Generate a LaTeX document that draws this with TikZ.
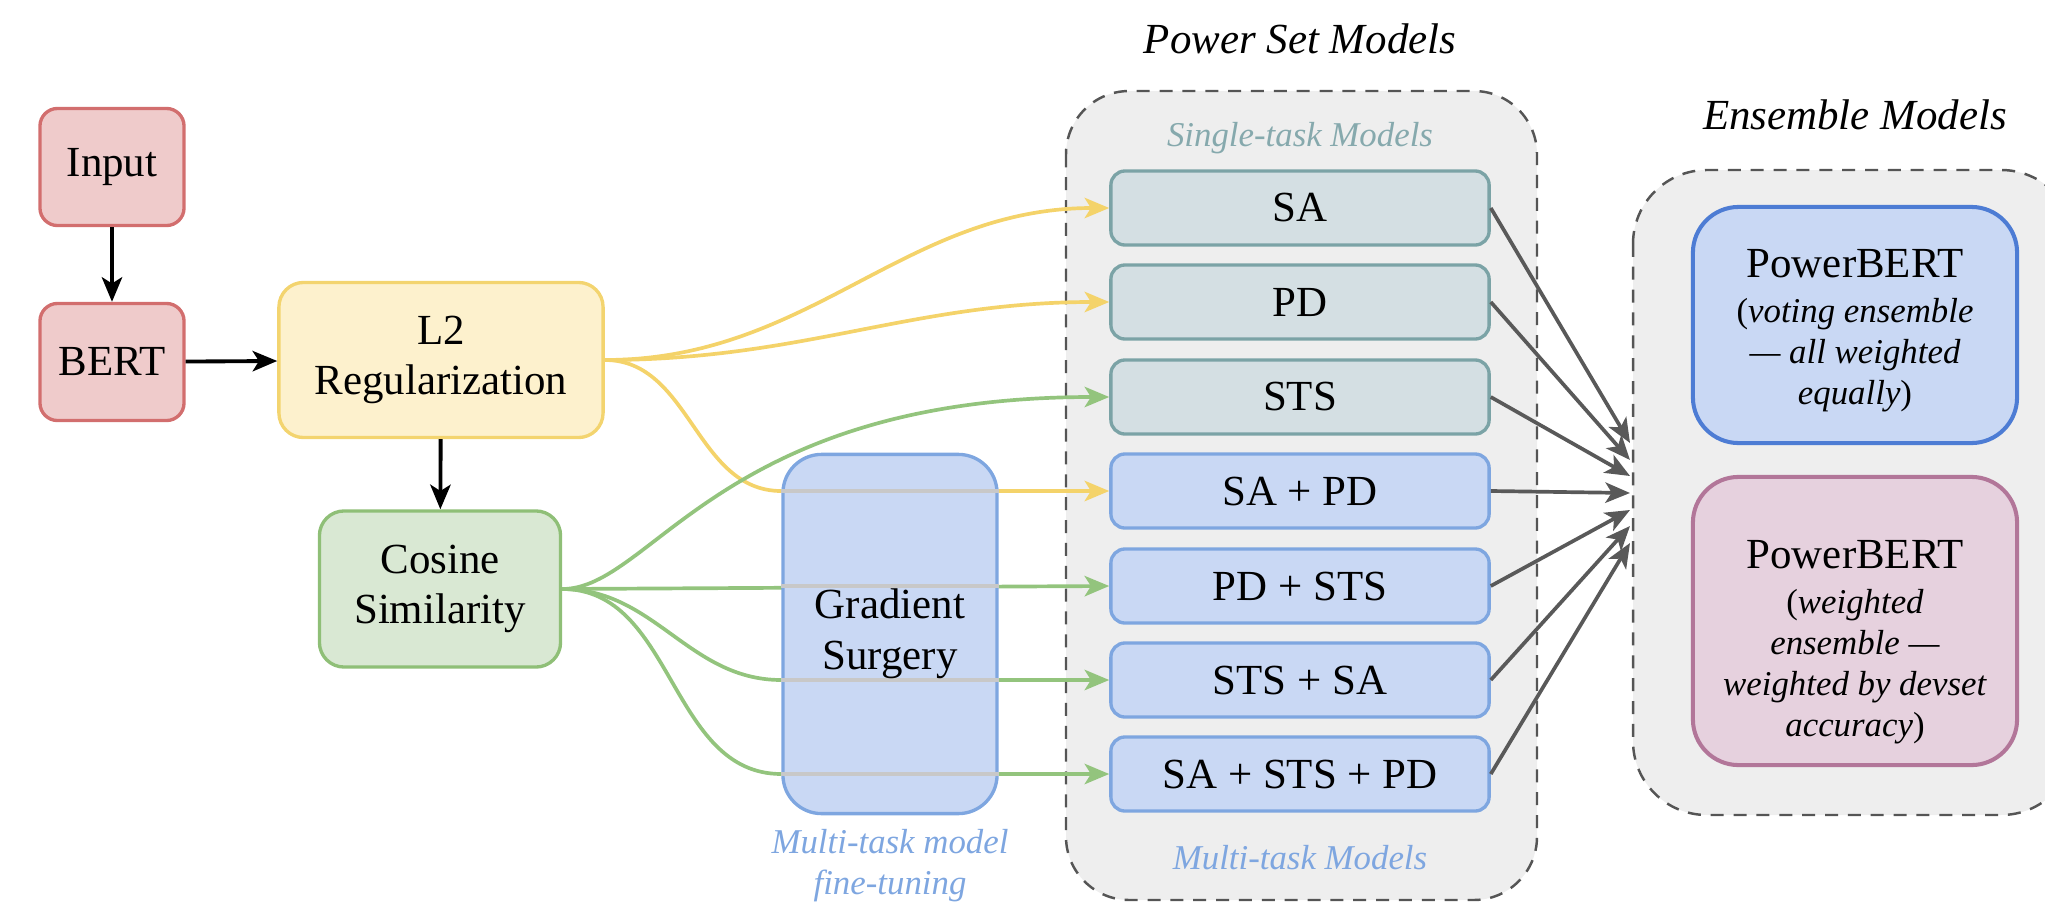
\documentclass[tikz,border=0pt]{standalone}
\usepackage{fontspec}
\setmainfont{Liberation Serif}
\usetikzlibrary{arrows.meta}

\definecolor{redfill}{HTML}{EFCBCB}
\definecolor{redline}{HTML}{D26E6E}
\definecolor{yelfill}{HTML}{FDF1CD}
\definecolor{yelline}{HTML}{F3D46F}
\definecolor{yelarrow}{HTML}{F4D36A}
\definecolor{grnfill}{HTML}{D9E8D3}
\definecolor{grnline}{HTML}{8FBF77}
\definecolor{grnarrow}{HTML}{93C47D}
\definecolor{stfill}{HTML}{D4DFE3}
\definecolor{stline}{HTML}{7BA3A6}
\definecolor{sttext}{HTML}{86A9AD}
\definecolor{mtfill}{HTML}{C9D8F4}
\definecolor{mtline}{HTML}{7EA6E0}
\definecolor{ensblue}{HTML}{4D7CD4}
\definecolor{pinkfill}{HTML}{E6D1DE}
\definecolor{pinkline}{HTML}{B27699}
\definecolor{boxgray}{HTML}{EEEEEE}
\definecolor{dashgray}{HTML}{555555}
\definecolor{arrowgray}{HTML}{595959}
\definecolor{hidgray}{HTML}{C8C8C8}

\newcommand{\boxfont}{\rmfamily\fontsize{12.2}{14.4}\selectfont}
\newcommand{\notefont}{\rmfamily\fontsize{9.9}{11.7}\selectfont}

\pgfdeclarelayer{bg}
\pgfdeclarelayer{wires}
\pgfsetlayers{bg,wires,main}

\begin{document}
\begin{tikzpicture}[
  x=0.01cm, y=-0.01cm,
  >={Stealth[length=7pt,width=5.8pt,inset=1.8pt]},
  every node/.style={align=center, font=\boxfont, inner sep=0pt},
  blk/.style={draw, line width=0.95pt, rounded corners=5pt},
  redblk/.style={blk, fill=redfill, draw=redline, minimum width=1.44cm, minimum height=1.17cm},
  single/.style={blk, fill=stfill, draw=stline, rounded corners=4pt, minimum width=3.78cm, minimum height=0.74cm},
  multi/.style={single, fill=mtfill, draw=mtline},
  ens/.style={blk, rounded corners=13pt, minimum width=3.24cm, line width=1.15pt, font=\notefont},
  hold/.style={fill=boxgray, draw=dashgray, line width=0.7pt, dash pattern=on 3.7pt off 2.8pt},
  note/.style={font=\notefont\itshape},
  yel/.style={->, draw=yelarrow, line width=1.05pt},
  grn/.style={->, draw=grnarrow, line width=1.05pt},
  gry/.style={->, draw=arrowgray, line width=1.05pt},
  hid/.style={draw=hidgray, line width=1.05pt},
]

\useasboundingbox (0,0) rectangle (2045,906);

\begin{pgfonlayer}{bg}
\clip (0,0) rectangle (2045,906);
\draw [hold, rounded corners=18pt] (1066,91) rectangle (1537,900);
\draw [hold, rounded corners=21pt] (1633,170) rectangle (2075,815);
\end{pgfonlayer}

\node [redblk] (input) at (112,167) {Input};
\node [redblk] (bert) at (112,362) {BERT};
\node [blk, fill=yelfill, draw=yelline, rounded corners=7pt, minimum width=3.24cm, minimum height=1.55cm] (l2) at (441,360) {L2\\Regularization};
\node [blk, fill=grnfill, draw=grnline, rounded corners=7pt, minimum width=2.41cm, minimum height=1.56cm] (cos) at (440,589) {Cosine\\Similarity};
\node [blk, fill=mtfill, draw=mtline, rounded corners=11pt, minimum width=2.14cm, minimum height=3.59cm] (gs) at (890,634) {};

\node [single] (sa) at (1300,208) {SA};
\node [single] (pd) at (1300,302) {PD};
\node [single] (sts) at (1300,397) {STS};
\node [multi] (sapd) at (1300,491) {SA + PD};
\node [multi] (pdsts) at (1300,586) {PD + STS};
\node [multi] (stssa) at (1300,680) {STS + SA};
\node [multi] (all) at (1300,774) {SA + STS + PD};

\node [ens, fill=mtfill, draw=ensblue, minimum height=2.36cm] (vote) at (1855,325) {\rule{0pt}{11.5pt}{\boxfont PowerBERT}\\[1pt](\textit{voting ensemble}\\\textit{--- all weighted}\\\textit{equally})};
\node [ens, fill=pinkfill, draw=pinkline, minimum height=2.88cm] (weigh) at (1855,621) {\rule{0pt}{20pt}{\boxfont PowerBERT}\\[1pt](\textit{weighted}\\\textit{ensemble ---}\\\textit{weighted by devset}\\\textit{accuracy})};

\node [font=\boxfont\itshape] (pstitle) at (1300,39) {Power Set Models};
\node [font=\boxfont\itshape] (entitle) at (1855,115) {Ensemble Models};
\node [note, text=sttext] (stlabel) at (1300,138) {Single-task Models};
\node [note, text=mtline] (mtlabel) at (1300,858) {Multi-task Models};
\node [note, text=mtline] (gslabel) at (890,866) {Multi-task model\\fine-tuning};

\draw [->, line width=1.1pt] (input) -- (bert);
\draw [->, line width=1.1pt] (bert) -- (l2);
\draw [->, line width=1.1pt] (l2) -- (cos);

\begin{pgfonlayer}{wires}
\draw [yel] (l2.east) to [out=0,in=180] (sa.west);
\draw [yel] (l2.east) to [out=0,in=180] (pd.west);
\draw [yel] (l2.east) to [out=0,in=180] (gs.west |- sapd) -- (sapd.west);
\draw [grn] (cos.east) .. controls +(90,0) and +(-390,0) .. (sts.west);
\draw [grn] (cos.east) -- (pdsts.west);
\draw [grn] (cos.east) to [out=0,in=180] (gs.west |- stssa) -- (stssa.west);
\draw [grn] (cos.east) to [out=0,in=180] (gs.west |- all) -- (all.west);
\end{pgfonlayer}

\draw [hid] (gs.west |- sapd) -- (gs.east |- sapd);
\draw [hid] (gs.west |- pdsts) -- (gs.east |- pdsts);
\draw [hid] (gs.west |- stssa) -- (gs.east |- stssa);
\draw [hid] (gs.west |- all) -- (gs.east |- all);
\node (gstext) at (gs) {Gradient\\Surgery};

\coordinate (t1) at (1630,443);
\coordinate (t2) at (1630,460);
\coordinate (t3) at (1630,476);
\coordinate (t4) at (1630,493);
\coordinate (t5) at (1630,510);
\coordinate (t6) at (1630,526);
\coordinate (t7) at (1630,543);
\draw [gry] (sa.east) -- (t1);
\draw [gry] (pd.east) -- (t2);
\draw [gry] (sts.east) -- (t3);
\draw [gry] (sapd.east) -- (t4);
\draw [gry] (pdsts.east) -- (t5);
\draw [gry] (stssa.east) -- (t6);
\draw [gry] (all.east) -- (t7);

\end{tikzpicture}
\end{document}
